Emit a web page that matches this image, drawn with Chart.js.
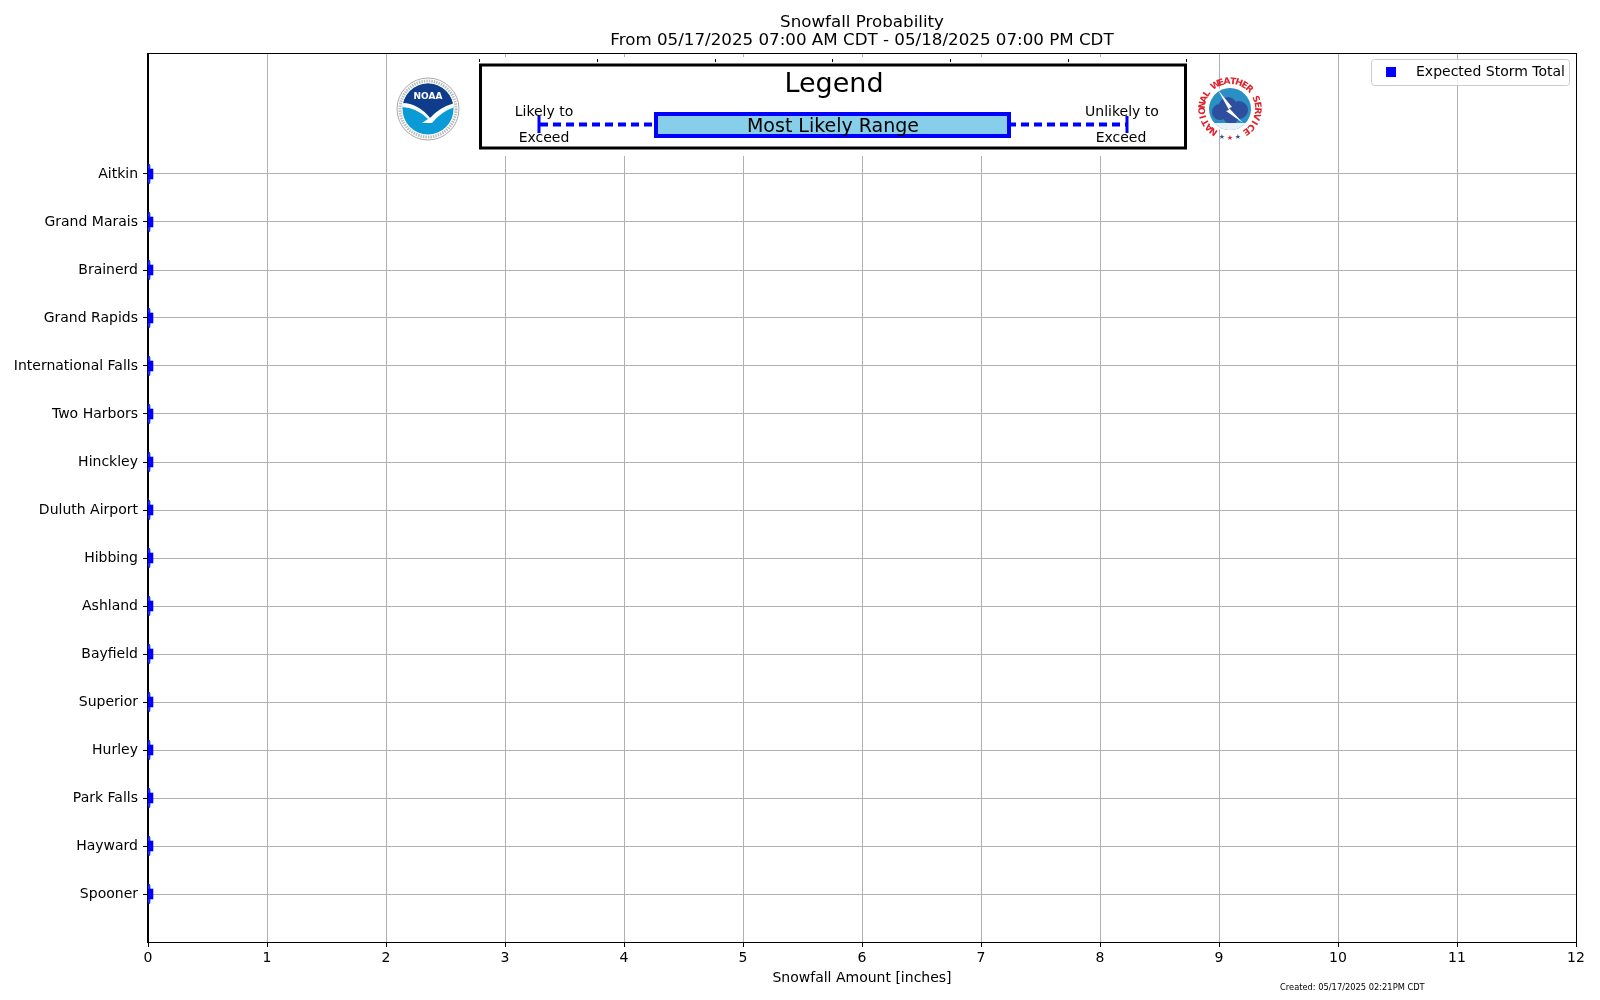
<!DOCTYPE html>
<html>
<head>
<meta charset="UTF-8">
<script src="https://cdn.jsdelivr.net/npm/chart.js"></script>
<style>
  body { margin: 0; background: #ffffff; }
  #wrap { width: 1600px; height: 1000px; }
</style>
</head>
<body>
<div id="wrap"><canvas id="chart" width="1600" height="1000"></canvas></div>
<script>
// locations, top to bottom as they appear on the chart
const locations = ['Aitkin', 'Grand Marais', 'Brainerd', 'Grand Rapids', 'International Falls',
  'Two Harbors', 'Hinckley', 'Duluth Airport', 'Hibbing', 'Ashland', 'Bayfield', 'Superior',
  'Hurley', 'Park Falls', 'Hayward', 'Spooner'];

// snowfall amounts in inches (everything is zero for this storm)
const expectedTotal = [0, 0, 0, 0, 0, 0, 0, 0, 0, 0, 0, 0, 0, 0, 0, 0];
const likelyToExceed = [0, 0, 0, 0, 0, 0, 0, 0, 0, 0, 0, 0, 0, 0, 0, 0];   // low whisker
const rangeLow = [0, 0, 0, 0, 0, 0, 0, 0, 0, 0, 0, 0, 0, 0, 0, 0];         // box start
const rangeHigh = [0, 0, 0, 0, 0, 0, 0, 0, 0, 0, 0, 0, 0, 0, 0, 0];        // box end
const unlikelyToExceed = [0, 0, 0, 0, 0, 0, 0, 0, 0, 0, 0, 0, 0, 0, 0, 0]; // high whisker

const xTicks = [0, 1, 2, 3, 4, 5, 6, 7, 8, 9, 10, 11, 12];

const titleLines = ['Snowfall Probability', 'From 05/17/2025 07:00 AM CDT - 05/18/2025 07:00 PM CDT'];
const xLabel = 'Snowfall Amount [inches]';
const createdText = 'Created: 05/17/2025 02:21PM CDT';

const FONT = '"DejaVu Sans", sans-serif';
const n = locations.length;
const yPos = i => n - 1 - i;   // Aitkin on top

// box and whisker marks drawn through the chart scales
const boxPlot = {
  id: 'boxPlot',
  beforeDatasetsDraw(chart) {
    const { ctx, chartArea, scales } = chart;
    const x = scales.x, y = scales.y;
    ctx.save();
    ctx.beginPath();
    ctx.rect(chartArea.left, chartArea.top, chartArea.width, chartArea.height);
    ctx.clip();
    locations.forEach((name, i) => {
      const py = y.getPixelForValue(yPos(i));
      const lo = x.getPixelForValue(likelyToExceed[i]);
      const hi = x.getPixelForValue(unlikelyToExceed[i]);
      const b0 = x.getPixelForValue(rangeLow[i]);
      const b1 = x.getPixelForValue(rangeHigh[i]);
      // box
      ctx.fillStyle = '#87ceeb';
      ctx.fillRect(b0, py - 9, Math.max(b1 - b0, 3), 18);
      ctx.strokeStyle = '#6f8cff';
      ctx.lineWidth = 1.5;
      ctx.strokeRect(b0 + 1, py - 9, b1 - b0, 18);
      ctx.strokeStyle = '#0000ff';
      ctx.lineWidth = 2;
      ctx.setLineDash([6, 3]);
      ctx.beginPath(); ctx.moveTo(lo, py); ctx.lineTo(hi, py); ctx.stroke();
      ctx.setLineDash([]);
      // caps
      ctx.lineWidth = 1.5;
      ctx.beginPath();
      ctx.moveTo(lo + 1, py - 10); ctx.lineTo(lo + 1, py + 10);
      ctx.moveTo(hi + 1, py - 10); ctx.lineTo(hi + 1, py + 10);
      ctx.stroke();
    });
    ctx.restore();
  }
};

function drawNoaa(ctx, cx, cy) {
  ctx.save();
  ctx.beginPath(); ctx.arc(cx, cy, 31, 0, Math.PI * 2);
  ctx.fillStyle = '#ffffff'; ctx.fill();
  ctx.strokeStyle = '#a8a8a8'; ctx.lineWidth = 1; ctx.stroke();
  // tiny ring lettering, unreadable at this size
  ctx.setLineDash([1.5, 1]);
  ctx.lineWidth = 3; ctx.strokeStyle = '#bdbdbd';
  ctx.beginPath(); ctx.arc(cx, cy, 28, 0, Math.PI * 2); ctx.stroke();
  ctx.setLineDash([]);
  ctx.beginPath(); ctx.arc(cx, cy, 25.5, 0, Math.PI * 2);
  ctx.fillStyle = '#0a9ad6'; ctx.fill();
  ctx.save(); ctx.clip();
  // dark top
  ctx.beginPath();
  ctx.moveTo(cx - 27, cy - 27); ctx.lineTo(cx + 27, cy - 27); ctx.lineTo(cx + 27, cy - 6);
  ctx.quadraticCurveTo(cx + 12, cy - 2, cx + 2, cy + 9);
  ctx.quadraticCurveTo(cx - 10, cy - 6, cx - 27, cy - 6);
  ctx.closePath();
  ctx.fillStyle = '#0f3d8c'; ctx.fill();
  // white gull
  ctx.beginPath();
  ctx.moveTo(cx - 27, cy - 6);
  ctx.quadraticCurveTo(cx - 10, cy - 6, cx + 2, cy + 9);
  ctx.quadraticCurveTo(cx + 12, cy - 2, cx + 27, cy - 6);
  ctx.lineTo(cx + 27, cy - 2);
  ctx.quadraticCurveTo(cx + 14, cy + 2, cx + 4, cy + 14);
  ctx.lineTo(cx - 6, cy + 14);
  ctx.lineTo(cx + 0, cy + 10);
  ctx.quadraticCurveTo(cx - 12, cy - 2, cx - 27, cy - 2);
  ctx.closePath();
  ctx.fillStyle = '#ffffff'; ctx.fill();
  ctx.restore();
  ctx.fillStyle = '#ffffff';
  ctx.font = 'bold 9px ' + FONT;
  ctx.textAlign = 'center'; ctx.textBaseline = 'middle';
  ctx.fillText('NOAA', cx, cy - 12);
  ctx.restore();
}

function drawNws(ctx, cx, cy) {
  ctx.save();
  // red lettering around the rim
  const word = 'NATIONAL WEATHER SERVICE';
  ctx.font = 'bold 9px ' + FONT;
  ctx.fillStyle = '#e0202a';
  ctx.textAlign = 'center'; ctx.textBaseline = 'middle';
  const a0 = Math.PI * 0.70, a1 = Math.PI * 2.30;
  for (let k = 0; k < word.length; k++) {
    const a = a0 + (a1 - a0) * k / (word.length - 1);
    ctx.save();
    ctx.translate(cx + Math.cos(a) * 27.5, cy + Math.sin(a) * 27.5);
    ctx.rotate(a + Math.PI / 2);
    ctx.fillText(word[k], 0, 0);
    ctx.restore();
  }
  // stars at the bottom
  ctx.font = '7px ' + FONT;
  ctx.fillStyle = '#3050a0'; ctx.fillText('\u2605', cx - 8, cy + 28);
  ctx.fillStyle = '#e0202a'; ctx.fillText('\u2605', cx, cy + 29);
  ctx.fillStyle = '#3050a0'; ctx.fillText('\u2605', cx + 8, cy + 28);
  // inner disc
  ctx.beginPath(); ctx.arc(cx, cy, 23, 0, Math.PI * 2);
  ctx.fillStyle = '#ffffff'; ctx.fill();
  ctx.beginPath(); ctx.arc(cx, cy, 21, 0, Math.PI * 2);
  ctx.fillStyle = '#2a8fc4'; ctx.fill();
  ctx.save(); ctx.clip();
  ctx.fillStyle = '#2e4f9e';
  ctx.beginPath();
  ctx.arc(cx - 10, cy + 3, 8, 0, Math.PI * 2);
  ctx.arc(cx - 2, cy - 3, 9, 0, Math.PI * 2);
  ctx.fill();
  ctx.beginPath();
  ctx.arc(cx + 9, cy + 1, 9, 0, Math.PI * 2);
  ctx.arc(cx + 1, cy + 7, 8, 0, Math.PI * 2);
  ctx.fill();
  ctx.fillStyle = '#e8f2fa';
  ctx.fillRect(cx - 23, cy + 14, 46, 10);
  // lightning bolt
  ctx.beginPath();
  ctx.moveTo(cx - 12, cy - 19); ctx.lineTo(cx + 2, cy - 2); ctx.lineTo(cx - 1, cy - 1);
  ctx.lineTo(cx + 13, cy + 14); ctx.lineTo(cx - 4, cy + 2); ctx.lineTo(cx - 1, cy + 1);
  ctx.closePath();
  ctx.fillStyle = '#ffffff'; ctx.fill();
  ctx.restore();
  ctx.restore();
}

const overlay = {
  id: 'overlay',
  afterDraw(chart) {
    const { ctx, chartArea } = chart;
    ctx.save();

    // spines on all four sides
    ctx.strokeStyle = '#000000';
    ctx.lineWidth = 1;
    ctx.strokeRect(Math.round(chartArea.left) - 0.5, Math.round(chartArea.top) - 0.5,
      Math.round(chartArea.width) + 1, Math.round(chartArea.height) + 1);

    // inset legend axes with white background
    ctx.fillStyle = '#ffffff';
    ctx.fillRect(476, 57, 714, 99);
    ctx.strokeStyle = '#000000';
    ctx.lineWidth = 1;
    for (let k = 0; k <= 6; k++) {
      const tx = Math.round(479 + k * 117.8) + 0.5;
      ctx.beginPath(); ctx.moveTo(tx, 59); ctx.lineTo(tx, 62); ctx.stroke();
    }
    ctx.lineWidth = 3;
    ctx.strokeRect(480.5, 65, 705, 83);

    ctx.fillStyle = '#000000';
    ctx.textAlign = 'center'; ctx.textBaseline = 'middle';
    ctx.font = '27px ' + FONT;
    ctx.fillText('Legend', 834, 85);

    // whisker sample
    ctx.strokeStyle = '#0000ff';
    ctx.lineWidth = 4;
    ctx.setLineDash([8, 5]);
    ctx.beginPath(); ctx.moveTo(540, 124.5); ctx.lineTo(1127, 124.5); ctx.stroke();
    ctx.setLineDash([]);
    ctx.lineWidth = 3;
    ctx.beginPath();
    ctx.moveTo(539, 116); ctx.lineTo(539, 133);
    ctx.moveTo(1127, 116); ctx.lineTo(1127, 133);
    ctx.stroke();
    ctx.fillStyle = '#87ceeb';
    ctx.fillRect(656, 114, 353, 22);
    ctx.lineWidth = 4;
    ctx.strokeRect(656, 114, 353, 22);
    ctx.fillStyle = '#000000';
    ctx.font = '19px ' + FONT;
    ctx.fillText('Most Likely Range', 833, 127.5);
    ctx.font = '14px ' + FONT;
    ctx.fillText('Likely to', 544, 112.5);
    ctx.fillText('Exceed', 544, 138);
    ctx.fillText('Unlikely to', 1122, 112.5);
    ctx.fillText('Exceed', 1121, 138);

    drawNoaa(ctx, 428, 109);
    drawNws(ctx, 1230, 109);

    // storm total legend, upper right
    ctx.fillStyle = 'rgba(255,255,255,0.8)';
    ctx.strokeStyle = '#cccccc';
    ctx.lineWidth = 1;
    ctx.beginPath();
    ctx.roundRect(1371.5, 59.5, 198, 26, 3);
    ctx.fill(); ctx.stroke();
    ctx.fillStyle = '#0000ff';
    ctx.fillRect(1386, 67, 10, 10);
    ctx.fillStyle = '#000000';
    ctx.textAlign = 'left';
    ctx.font = '14px ' + FONT;
    ctx.fillText('Expected Storm Total', 1416, 72.5);

    // titles and labels
    ctx.textAlign = 'center';
    ctx.font = '16.7px ' + FONT;
    ctx.fillText(titleLines[0], 862, 23);
    ctx.fillText(titleLines[1], 862, 40.5);
    ctx.font = '14px ' + FONT;
    ctx.fillText(xLabel, 862, 978.5);
    ctx.textAlign = 'left';
    ctx.font = '8.3px ' + FONT;
    ctx.fillText(createdText, 1280, 988);
    ctx.restore();
  }
};

new Chart(document.getElementById('chart'), {
  type: 'scatter',
  data: {
    datasets: [{
      label: 'Expected Storm Total',
      data: locations.map((name, i) => ({ x: expectedTotal[i], y: yPos(i) })),
      pointStyle: 'rect',
      pointRadius: 7.5,
      pointHoverRadius: 7.5,
      backgroundColor: '#0000ff',
      borderWidth: 0,
      clip: 0
    }]
  },
  options: {
    responsive: false,
    animation: false,
    devicePixelRatio: 1,
    layout: { padding: { left: 0, right: 24, top: 54, bottom: 0 } },
    plugins: {
      legend: { display: false },
      title: { display: false },
      tooltip: { enabled: false }
    },
    scales: {
      x: {
        type: 'linear',
        min: xTicks[0],
        max: xTicks[xTicks.length - 1],
        afterBuildTicks: s => { s.ticks = xTicks.map(v => ({ value: v })); },
        afterFit: s => { s.height = 58; },
        grid: { color: '#b0b0b0', lineWidth: 1, tickColor: '#000000', tickLength: 5 },
        border: { color: '#000000', width: 1 },
        ticks: { color: '#000000', font: { family: FONT, size: 14 }, padding: 3, maxRotation: 0 }
      },
      y: {
        type: 'linear',
        min: -1,
        max: 17.5,
        afterBuildTicks: s => { s.ticks = locations.map((name, i) => ({ value: yPos(i) })); },
        afterFit: s => { s.width = 148; },
        grid: { color: '#b0b0b0', lineWidth: 1, tickColor: '#000000', tickLength: 5 },
        border: { color: '#000000', width: 1 },
        ticks: {
          color: '#000000',
          font: { family: FONT, size: 14 },
          padding: 5,
          callback: v => locations[n - 1 - v]
        }
      }
    }
  },
  plugins: [boxPlot, overlay]
});
</script>
</body>
</html>
